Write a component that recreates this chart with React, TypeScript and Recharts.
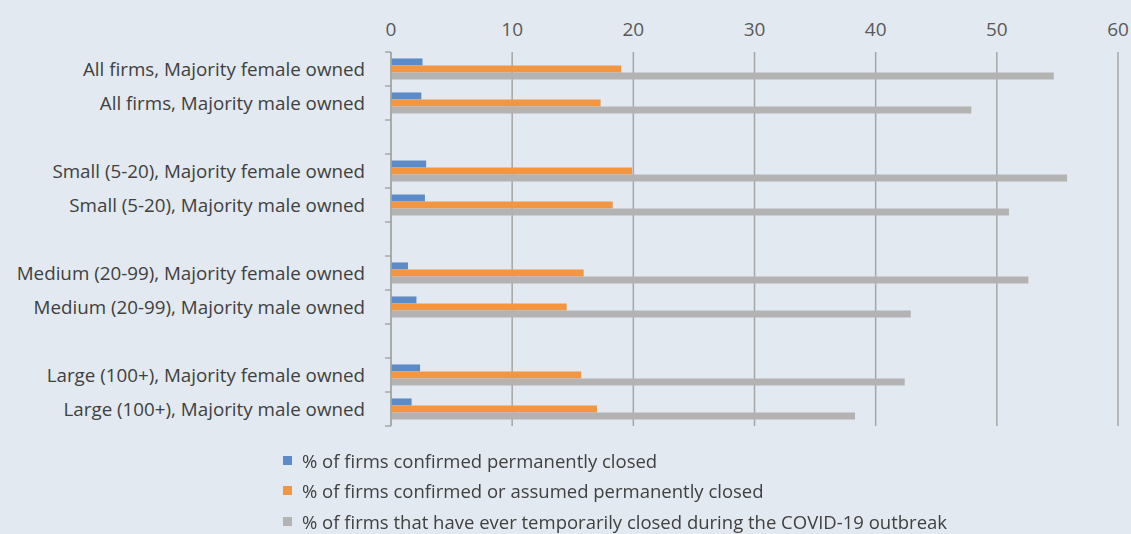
import { BarChart, Bar, XAxis, YAxis, CartesianGrid, Legend } from "recharts"

const categories = [
  "All firms, Majority female owned",
  "All firms, Majority male owned",
  "",
  "Small (5-20), Majority female owned",
  "Small (5-20), Majority male owned",
  " ",
  "Medium (20-99), Majority female owned",
  "Medium (20-99), Majority male owned",
  "  ",
  "Large (100+), Majority female owned",
  "Large (100+), Majority male owned",
]

const confirmedClosed = [2.6, 2.5, null, 2.9, 2.8, null, 1.4, 2.1, null, 2.4, 1.7]
const assumedClosed = [19.0, 17.3, null, 19.9, 18.3, null, 15.9, 14.5, null, 15.7, 17.0]
const everTemporarilyClosed = [54.7, 47.9, null, 55.8, 51.0, null, 52.6, 42.9, null, 42.4, 38.3]

const xTicks = [0, 10, 20, 30, 40, 50, 60]

const series = [
  { key: "confirmed", label: "% of firms confirmed permanently closed", color: "#5b8bc9" },
  { key: "assumed", label: "% of firms confirmed or assumed permanently closed", color: "#f39642" },
  {
    key: "temporary",
    label: "% of firms that have ever temporarily closed during the COVID-19 outbreak",
    color: "#b3b3b3",
  },
]

const data = categories.map((name, i) => ({
  name,
  confirmed: confirmedClosed[i],
  assumed: assumedClosed[i],
  temporary: everTemporarilyClosed[i],
}))

const FONT = "'Open Sans', sans-serif"
const BG = "#e2e9f0"
const AXIS = "#a6a6a6"
const TICK_SIZE = 6
const TICK_MARGIN = 20

// category label plus Excel-style tick marks on the band edges
function CategoryTick(props: any) {
  const { x, y, payload, index, visibleTicksCount } = props
  const half = payload.offset || 17
  const ax = x + TICK_SIZE + TICK_MARGIN
  return (
    <g>
      <line x1={ax - TICK_SIZE} x2={ax} y1={y - half} y2={y - half} stroke={AXIS} strokeWidth={1.5} />
      {index === visibleTicksCount - 1 && (
        <line x1={ax - TICK_SIZE} x2={ax} y1={y + half} y2={y + half} stroke={AXIS} strokeWidth={1.5} />
      )}
      <text x={x} y={y} dy="0.355em" textAnchor="end" fill="#404040" fontSize={18.8} fontFamily={FONT}>
        {payload.value}
      </text>
    </g>
  )
}

function LegendList({ payload }: any) {
  return (
    <ul style={{ listStyle: "none", margin: 0, padding: 0, fontFamily: FONT, fontSize: 18.5, color: "#404040" }}>
      {(payload || []).map((entry: any) => (
        <li key={entry.value} style={{ display: "flex", alignItems: "center", height: 30.5, whiteSpace: "nowrap" }}>
          <span style={{ width: 9, height: 9, background: entry.color, marginRight: 10, display: "inline-block" }} />
          {entry.value}
        </li>
      ))}
    </ul>
  )
}

export default function App() {
  return (
    <div style={{ position: "fixed", left: 0, top: 0, width: 1131, height: 534, background: BG }}>
      <BarChart
        width={1131}
        height={534}
        data={data}
        layout="vertical"
        margin={{ top: 22, right: 13, bottom: 108, left: 0 }}
        barCategoryGap="19%"
        barGap={0}
      >
        <CartesianGrid horizontal={false} stroke={AXIS} strokeWidth={1.5} />
        <XAxis
          type="number"
          orientation="top"
          domain={[0, 60]}
          ticks={xTicks}
          interval={0}
          axisLine={false}
          tickLine={false}
          tickMargin={10}
          height={30}
          tick={{ fill: "#595959", fontSize: 19, fontFamily: FONT }}
        />
        <YAxis
          type="category"
          dataKey="name"
          width={391}
          interval={0}
          axisLine={{ stroke: AXIS, strokeWidth: 1.5 }}
          tickLine={false}
          tickSize={TICK_SIZE}
          tickMargin={TICK_MARGIN}
          tick={<CategoryTick />}
        />
        {series.map((s) => (
          <Bar key={s.key} dataKey={s.key} name={s.label} fill={s.color} isAnimationActive={false} />
        ))}
        <Legend
          layout="horizontal"
          verticalAlign="middle"
          content={LegendList}
          itemSorter={(item: any) => series.findIndex((s) => s.key === item.dataKey)}
          wrapperStyle={{ top: 445, left: 283, width: 830 }}
        />
      </BarChart>
    </div>
  )
}
